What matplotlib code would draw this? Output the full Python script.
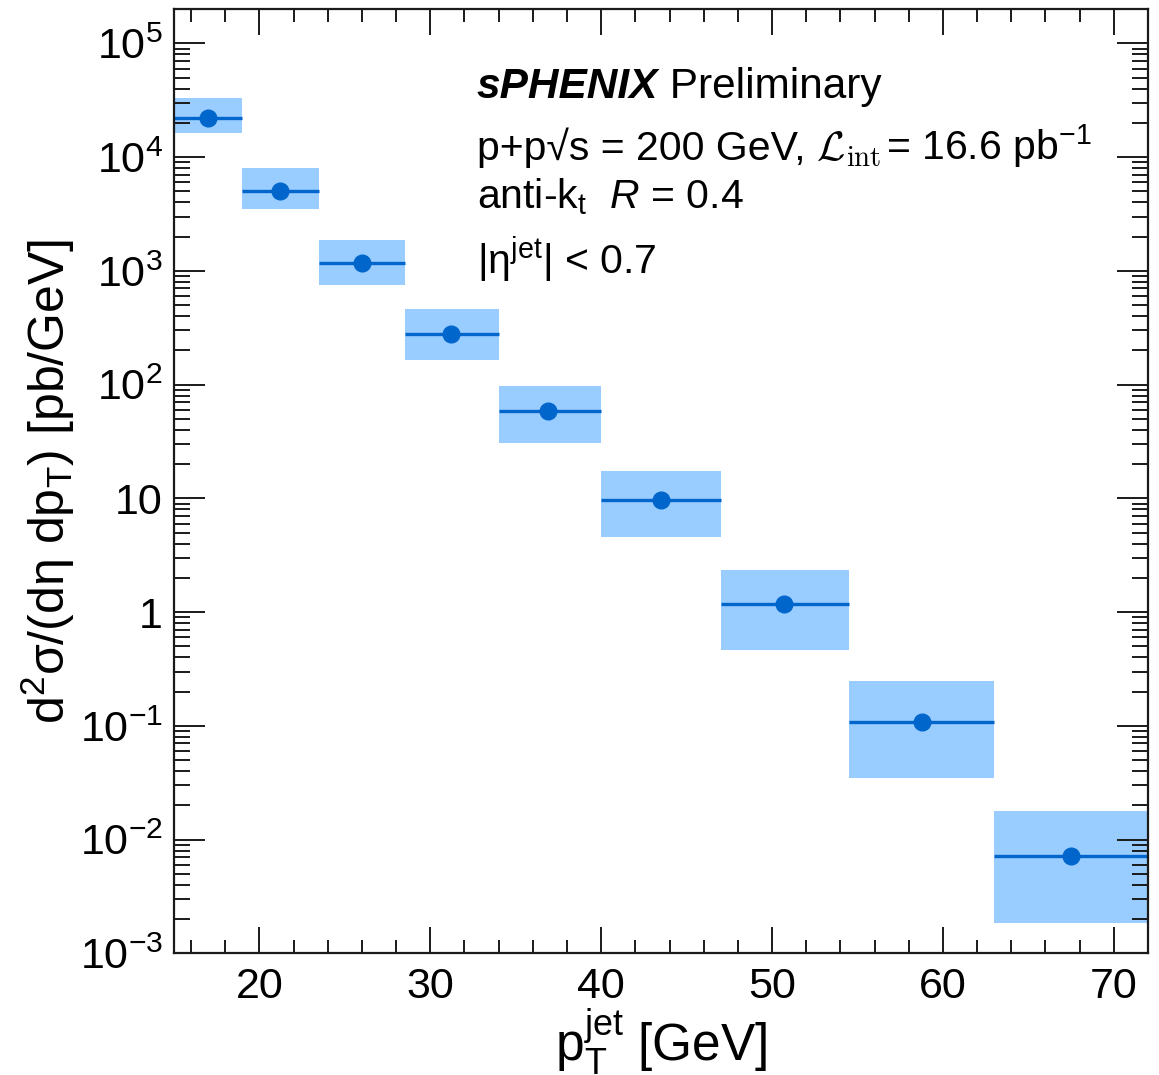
import matplotlib
matplotlib.use("Agg")
import matplotlib.pyplot as plt
import numpy as np
from matplotlib.ticker import MultipleLocator, LogLocator, NullFormatter, FuncFormatter

FONT = 'Liberation Sans'
plt.rcParams['font.family'] = [FONT, 'DejaVu Sans']
plt.rcParams['mathtext.fontset'] = 'custom'
plt.rcParams['mathtext.rm'] = FONT
plt.rcParams['mathtext.it'] = FONT + ':italic'
plt.rcParams['mathtext.bf'] = FONT + ':bold'
plt.rcParams['mathtext.fallback'] = 'stix'

# Data
bin_edges = [15, 19, 23.5, 28.5, 34, 40, 47, 54.5, 63, 72]
pt_centers = [17.0, 21.2, 26.0, 31.2, 36.9, 43.5, 50.7, 58.8, 67.5]
xsec = [2.22e4, 5.05e3, 1.17e3, 280, 59, 9.6, 1.17, 0.108, 0.0072]
sys_hi = [3.29e4, 8.09e3, 1.88e3, 458, 98, 17.5, 2.32, 0.248, 0.0177]
sys_lo = [1.62e4, 3.53e3, 744, 166, 30.9, 4.53, 0.461, 0.0348, 0.00185]

W, H = 1159, 1075
fig = plt.figure(figsize=(W / 100, H / 100), dpi=100)
ax = fig.add_axes([174 / W, 1 - 953.3 / H, (1148 - 174) / W, (953.3 - 9) / H])

box_c = '#99CCFF'
pt_c = '#0066CC'

edges = np.array(bin_edges)
lo = np.array(sys_lo)
hi = np.array(sys_hi)
ax.bar(edges[:-1], hi - lo, bottom=lo, width=np.diff(edges), align='edge',
       color=box_c, edgecolor='none', zorder=1)
ax.hlines(xsec, edges[:-1], edges[1:], color=pt_c, lw=2.4, zorder=2)
ax.plot(pt_centers, xsec, 'o', color=pt_c, ms=12, mec=pt_c, zorder=3)

ax.set_yscale('log')
ax.set_xlim(15, 72)
ax.set_ylim(1e-3, 10 ** 5.302)

ax.xaxis.set_major_locator(MultipleLocator(10))
ax.xaxis.set_minor_locator(MultipleLocator(2))
ax.yaxis.set_major_locator(LogLocator(base=10, numticks=20))
ax.yaxis.set_minor_locator(LogLocator(base=10, subs=np.arange(2, 10), numticks=20))
ax.yaxis.set_minor_formatter(NullFormatter())

def yfmt(v, pos):
    e = int(round(np.log10(v)))
    if e == 0:
        return '1'
    if e == 1:
        return '10'
    return r'$10^{%d}$' % e

ax.yaxis.set_major_formatter(FuncFormatter(yfmt))

ax.tick_params(axis='both', which='both', direction='in', top=True, right=True,
               width=1.4, color='#1a1a1a', labelsize=31)
ax.tick_params(axis='x', which='major', length=19, pad=10)
ax.tick_params(axis='x', which='minor', length=9.5)
ax.tick_params(axis='y', which='major', length=22, pad=8)
ax.tick_params(axis='y', which='minor', length=11.5)
for s in ax.spines.values():
    s.set_linewidth(1.6)
    s.set_color('#1a1a1a')

ax.set_xlabel(r'p$_{\mathregular{T}}^{\mathregular{jet}}$ [GeV]', fontsize=37, labelpad=-1)
ax.set_ylabel(r'd$^{2}$σ/(dη dp$_{\mathregular{T}}$) [pb/GeV]', fontsize=36, labelpad=2)

tx = 477 / W
t1 = fig.text(tx, 1 - 98.3 / H, 'sPHENIX', fontsize=30.5, fontweight='bold', fontstyle='italic',
              va='baseline')
ax.annotate(' Preliminary', xy=(1, 0), xycoords=t1, va='bottom', ha='left', fontsize=30.5)

y2 = 1 - 160 / H
fs = 29.5
r = fig.canvas.get_renderer()
tA = fig.text(tx, y2, 'p+p\u221as = 200 GeV,', fontsize=fs, va='baseline')
xB = tA.get_window_extent(r).x1 + 10
tB = fig.text(xB / W, y2, r'$\mathcal{L}_{\mathrm{int}}$', fontsize=fs, va='baseline',
              math_fontfamily='cm')
xC = tB.get_window_extent(r).x1 + 5
fig.text(xC / W, y2, '= 16.6 pb$^{\\mathregular{-1}}$', fontsize=fs, va='baseline')

fig.text(tx, 1 - 208.3 / H, r'anti-k$_{\mathregular{t}}$  $R$ = 0.4', fontsize=fs, va='baseline')
fig.text(tx, 1 - 274 / H, r'|η$^{\mathregular{jet}}$| < 0.7', fontsize=fs, va='baseline')

fig.savefig('out.png', dpi=100)
